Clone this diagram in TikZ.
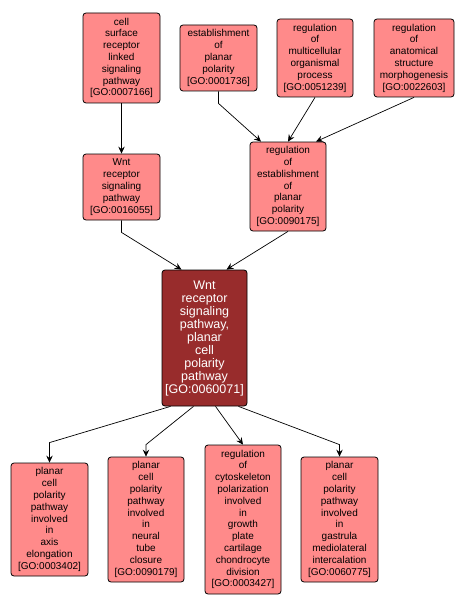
\documentclass[tikz,border=0pt]{standalone}
\usepackage{fontspec}
\setmainfont{Liberation Sans}
\usetikzlibrary{arrows.meta}
\definecolor{termfill}{RGB}{255,138,138}
\definecolor{mainfill}{RGB}{152,44,44}
\tikzset{
  goterm/.style={draw=black, fill=termfill, rounded corners=3pt, line width=0.8pt,
    inner sep=0pt, align=center, font=\fontsize{10}{11.8}\selectfont},
  gomain/.style={goterm, fill=mainfill, text=white, font=\fontsize{12.5}{13}\selectfont},
  edge/.style={draw=black, line width=0.7pt, -{Stealth[length=7pt,width=6.5pt,inset=2.5pt]}}
}
\begin{document}
\begin{tikzpicture}[x=1pt,y=-1pt]
  \useasboundingbox (0,0) rectangle (465,607);
  % top row
  \node[goterm, minimum width=77pt, minimum height=90pt] (csr) at (121.5,58)
    {cell\\surface\\receptor\\linked\\signaling\\pathway\\{[GO:0007166]}};
  \node[goterm, minimum width=77pt, minimum height=66pt] (epp) at (218.5,58)
    {establishment\\of\\planar\\polarity\\{[GO:0001736]}};
  \node[goterm, minimum width=76pt, minimum height=78pt] (rmop) at (315,58)
    {regulation\\of\\multicellular\\organismal\\process\\{[GO:0051239]}};
  \node[goterm, minimum width=80pt, minimum height=78pt] (rasm) at (414,58)
    {regulation\\of\\anatomical\\structure\\morphogenesis\\{[GO:0022603]}};

  % middle row
  \node[goterm, minimum width=77pt, minimum height=66pt] (wnt) at (121.5,187)
    {Wnt\\receptor\\signaling\\pathway\\{[GO:0016055]}};
  \node[goterm, minimum width=76pt, minimum height=89pt] (repp) at (288,186.5)
    {regulation\\of\\establishment\\of\\planar\\polarity\\{[GO:0090175]}};

  % main term
  \node[gomain, minimum width=85pt, minimum height=136pt] (pcp) at (204.5,338)
    {Wnt\\receptor\\signaling\\pathway,\\planar\\cell\\polarity\\pathway\\{[GO:0060071]}};

  % bottom row
  \node[goterm, minimum width=77pt, minimum height=113pt] (axis) at (49.5,519.5)
    {planar\\cell\\polarity\\pathway\\involved\\in\\axis\\elongation\\{[GO:0003402]}};
  \node[goterm, minimum width=76pt, minimum height=125pt] (tube) at (146,519.5)
    {planar\\cell\\polarity\\pathway\\involved\\in\\neural\\tube\\closure\\{[GO:0090179]}};
  \node[goterm, minimum width=76pt, minimum height=149pt] (cyto) at (243,519.5)
    {regulation\\of\\cytoskeleton\\polarization\\involved\\in\\growth\\plate\\cartilage\\chondrocyte\\division\\{[GO:0003427]}};
  \node[goterm, minimum width=77pt, minimum height=125pt] (gast) at (339.5,519.5)
    {planar\\cell\\polarity\\pathway\\involved\\in\\gastrula\\mediolateral\\intercalation\\{[GO:0060775]}};

  % edges
  \draw[edge] (csr.south) -- (wnt.north);
  \draw[edge] (epp.south) -- ++(0,12) -- ([xshift=-27pt]repp.north);
  \draw[edge] (rmop.south) -- (repp.north);
  \draw[edge] (rasm.south) -- ([xshift=28pt]repp.north);
  \draw[edge] (wnt.south) -- ++(0,12) -- ([xshift=-23pt]pcp.north);
  \draw[edge] (repp.south) -- ([xshift=22pt]pcp.north);
  \draw[edge] ([xshift=-34pt]pcp.south) -- ([yshift=20pt]axis.north) -- (axis.north);
  \draw[edge] ([xshift=-11pt]pcp.south) -- ([yshift=12pt]tube.north) -- (tube.north);
  \draw[edge] ([xshift=11pt]pcp.south) -- (cyto.north);
  \draw[edge] ([xshift=34pt]pcp.south) -- ([yshift=12pt]gast.north) -- (gast.north);
\end{tikzpicture}
\end{document}
